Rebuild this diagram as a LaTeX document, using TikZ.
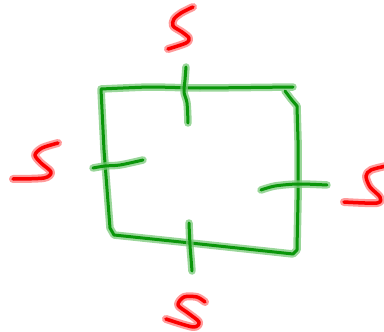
\documentclass[tikz,border=0pt]{standalone}
\begin{document}
\begin{tikzpicture}[x=1pt,y=-1pt,
  greenhalo/.style={line width=7.5pt,draw={rgb,255:red,120;green,200;blue,120},line cap=round,line join=round,opacity=0.75},
  greencore/.style={line width=3pt,draw={rgb,255:red,10;green,150;blue,10},line cap=round,line join=round},
  redhalo/.style={line width=8pt,draw={rgb,255:red,255;green,120;blue,120},line cap=round,line join=round,opacity=0.75},
  redcore/.style={line width=3.5pt,draw={rgb,255:red,250;green,0;blue,0},line cap=round,line join=round}]
\newcommand\hstroke[2]{\draw[#1halo] #2; \draw[#1core] #2;}
\useasboundingbox (0,0) rectangle (384,332);
% box
\hstroke{green}{plot[smooth,tension=0.3] coordinates {(293,87) (200,88) (150,87) (101,89)} -- (104,150) -- (110,228) -- (114,235) -- (200,244) -- (293,254) -- (297,250) -- (298,200) -- (298,140) -- (297,106) -- (291,99) -- (285,91)}
% ticks
\hstroke{green}{plot[smooth] coordinates {(186,67) (185,80) (184,92) (187,103) (188,123)}}
\hstroke{green}{plot[smooth] coordinates {(93,168) (105,166) (120,165) (143,160)}}
\hstroke{green}{plot[smooth] coordinates {(261,190) (275,186) (298,184) (327,185)}}
\hstroke{green}{plot[smooth] coordinates {(189,223) (190,245) (191,258) (192,271)}}
% S shapes
\hstroke{red}{plot[smooth] coordinates {(193,7) (181,13) (174,19) (173,26) (182,32) (189,38) (186,43) (168,49)}}
\hstroke{red}{plot[smooth] coordinates {(58,143) (42,148) (35,155) (41,163) (51,172) (44,178) (13,179)}}
\hstroke{red}{plot[smooth] coordinates {(386,166) (371,170) (366,176) (370,187) (380,197) (377,203) (344,202)}}
\hstroke{red}{plot[smooth] coordinates {(205,302) (197,297) (184,297) (178,305) (188,313) (199,322) (193,327) (166,319)}}
\end{tikzpicture}
\end{document}
